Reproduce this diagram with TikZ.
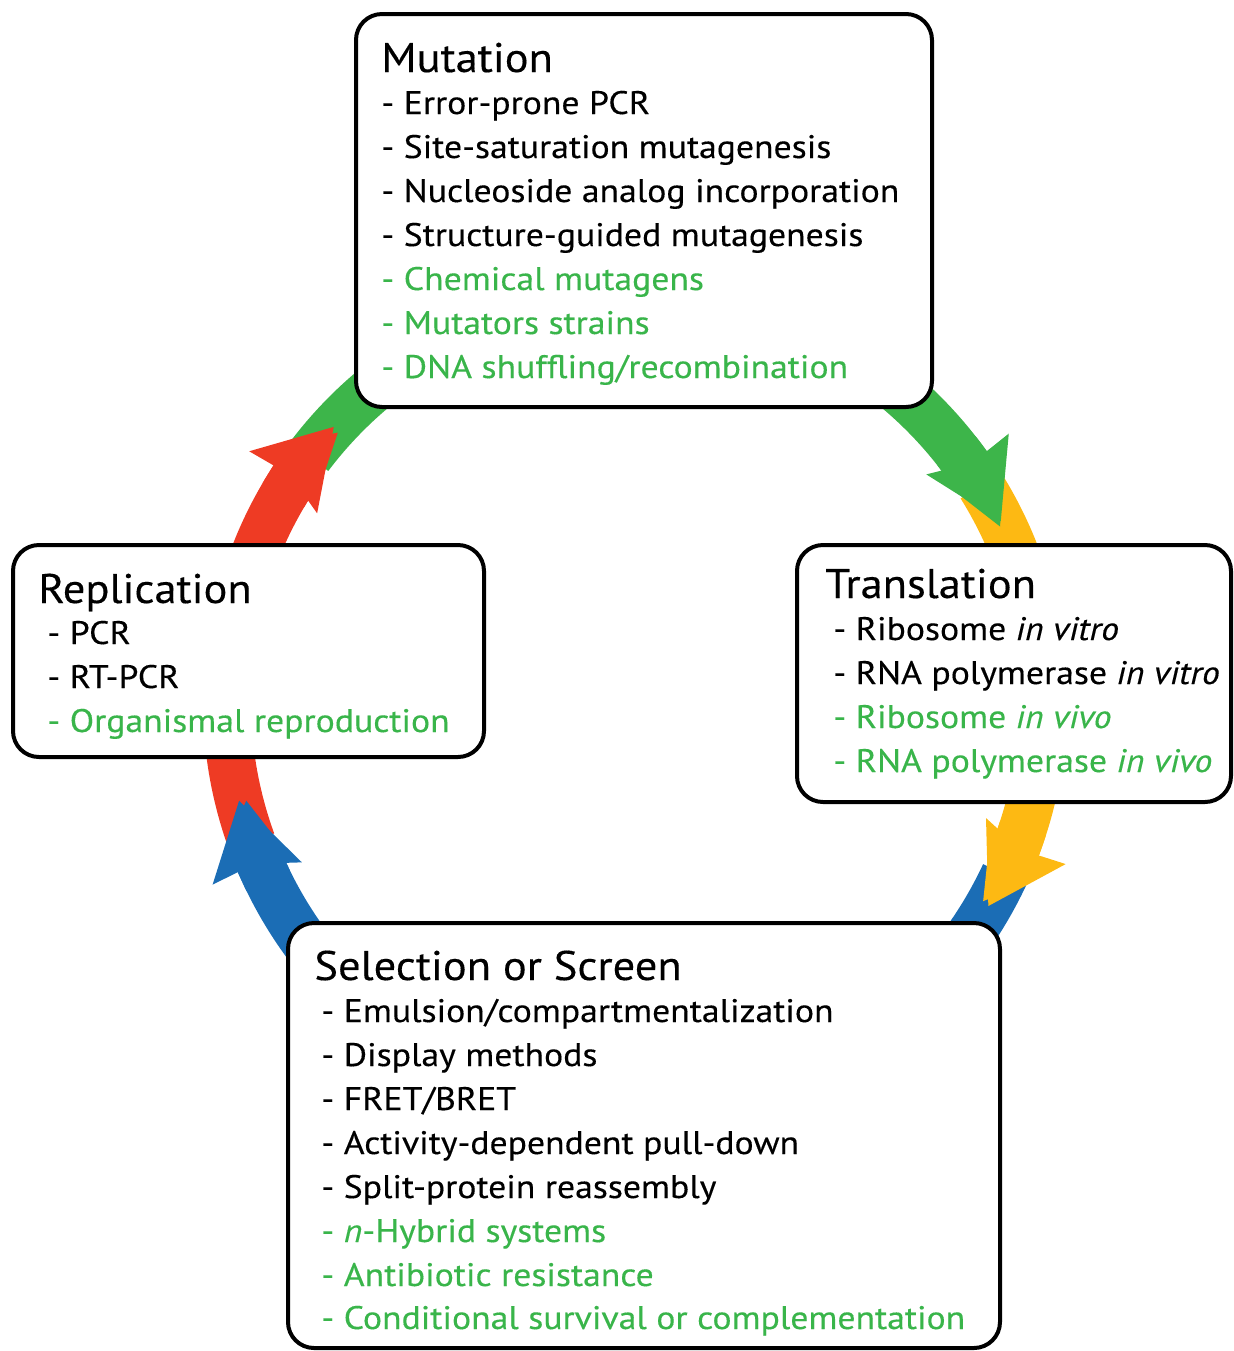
\documentclass[tikz,border=0pt]{standalone}
\usepackage{fontspec}
\setmainfont{PT Sans}
\newfontfamily\itemfont[FakeStretch=1.095,FakeBold=0.3]{PT Sans}
\newfontfamily\titlefont[FakeStretch=1.075,FakeBold=0.3]{PT Sans}
\usetikzlibrary{arrows.meta}
\definecolor{agreen}{RGB}{61,181,74}
\definecolor{tgreen}{RGB}{57,181,74}
\definecolor{ayellow}{RGB}{253,185,19}
\definecolor{ablue}{RGB}{27,109,181}
\definecolor{ared}{RGB}{238,59,36}
\begin{document}
\begin{tikzpicture}[x=0.5pt,y=-0.5pt,
  box/.style={draw=black, line width=2pt, fill=white, rounded corners=13pt, inner sep=0pt},
  ttl/.style={anchor=base west, inner sep=0pt, font=\titlefont\fontsize{20.7}{24}\selectfont},
  itm/.style={anchor=base west, inner sep=0pt, font=\itemfont\fontsize{16.3}{20}\selectfont},
  gitm/.style={itm, text=tgreen},
  shaft/.style={line width=24pt},
  head/.style={line width=24pt, -{Stealth[length=37.5pt,width=46pt,inset=5pt,line width=0pt]}},
]
\useasboundingbox (0,0) rectangle (1234,1351);
\coordinate (c) at (635,702);
% arc start points
\path (c) ++(-143:408) coordinate (g0);
\path (c) ++(-32:408) coordinate (y0);
\path (c) ++(25:408) coordinate (b0);
\path (c) ++(160:408) coordinate (r0);
\path (c) ++(-38:408) coordinate (gh);
\path (c) ++(18:408) coordinate (yh);
\path (c) ++(154:408) coordinate (bh);
\path (c) ++(210.4:408) coordinate (rh);
% shafts
\draw[shaft, agreen] (g0) arc[start angle=-143, end angle=-34.3, radius=408];
\draw[shaft, ayellow] (y0) arc[start angle=-32, end angle=22, radius=408];
\draw[shaft, ablue] (b0) arc[start angle=25, end angle=158, radius=408];
\draw[shaft, ared] (r0) arc[start angle=160, end angle=214.4, radius=408];
% heads
\draw[head, agreen] (gh) arc[start angle=-38, end angle=-26.3, radius=408];
\draw[head, ayellow] (yh) arc[start angle=18, end angle=30, radius=408];
\draw[head, ablue] (bh) arc[start angle=154, end angle=166, radius=408];
\draw[head, ared] (rh) arc[start angle=210.4, end angle=222.4, radius=408];
% boxes
\node[box, minimum width=288pt, minimum height=196.5pt] (mutbox) at (644,210.5) {};
\node[box, minimum width=235.5pt, minimum height=106pt] (repbox) at (248.5,651) {};
\node[box, minimum width=217pt, minimum height=128.5pt] (trabox) at (1014,673.5) {};
\node[box, minimum width=356pt, minimum height=212.5pt] (selbox) at (644,1135.5) {};
% Mutation
\node[ttl] (mt) at (381,72) {Mutation};
\node[itm] (m1) at (381,114) {- Error-prone PCR};
\node[itm] (m2) at (381,158) {- Site-saturation mutagenesis};
\node[itm] (m3) at (381,202) {- Nucleoside analog incorporation};
\node[itm] (m4) at (381,246) {- Structure-guided mutagenesis};
\node[gitm] (m5) at (381,290) {- Chemical mutagens};
\node[gitm] (m6) at (381,334) {- Mutators strains};
\node[gitm] (m7) at (381,378) {- DNA shuffling/recombination};
% Replication
\node[ttl] (rt) at (38,603) {Replication};
\node[itm] (r1) at (47,644) {- PCR};
\node[itm] (r2) at (47,688) {- RT-PCR};
\node[gitm] (r3) at (47,732) {- Organismal reproduction};
% Translation
\node[ttl] (tt) at (825,598) {Translation};
\node[itm] (t1) at (833,640) {- Ribosome \textit{in vitro}};
\node[itm] (t2) at (833,684) {- RNA polymerase \textit{in vitro}};
\node[gitm] (t3) at (833,728) {- Ribosome \textit{in vivo}};
\node[gitm] (t4) at (833,772) {- RNA polymerase \textit{in vivo}};
% Selection
\node[ttl] (st) at (314,980) {Selection or Screen};
\node[itm] (s1) at (321,1022) {- Emulsion/compartmentalization};
\node[itm] (s2) at (321,1066) {- Display methods};
\node[itm] (s3) at (321,1110) {- FRET/BRET};
\node[itm] (s4) at (321,1154) {- Activity-dependent pull-down};
\node[itm] (s5) at (321,1198) {- Split-protein reassembly};
\node[gitm] (s6) at (321,1242) {- \textit{n}-Hybrid systems};
\node[gitm] (s7) at (321,1286) {- Antibiotic resistance};
\node[gitm] (s8) at (321,1329) {- Conditional survival or complementation};
\end{tikzpicture}
\end{document}
